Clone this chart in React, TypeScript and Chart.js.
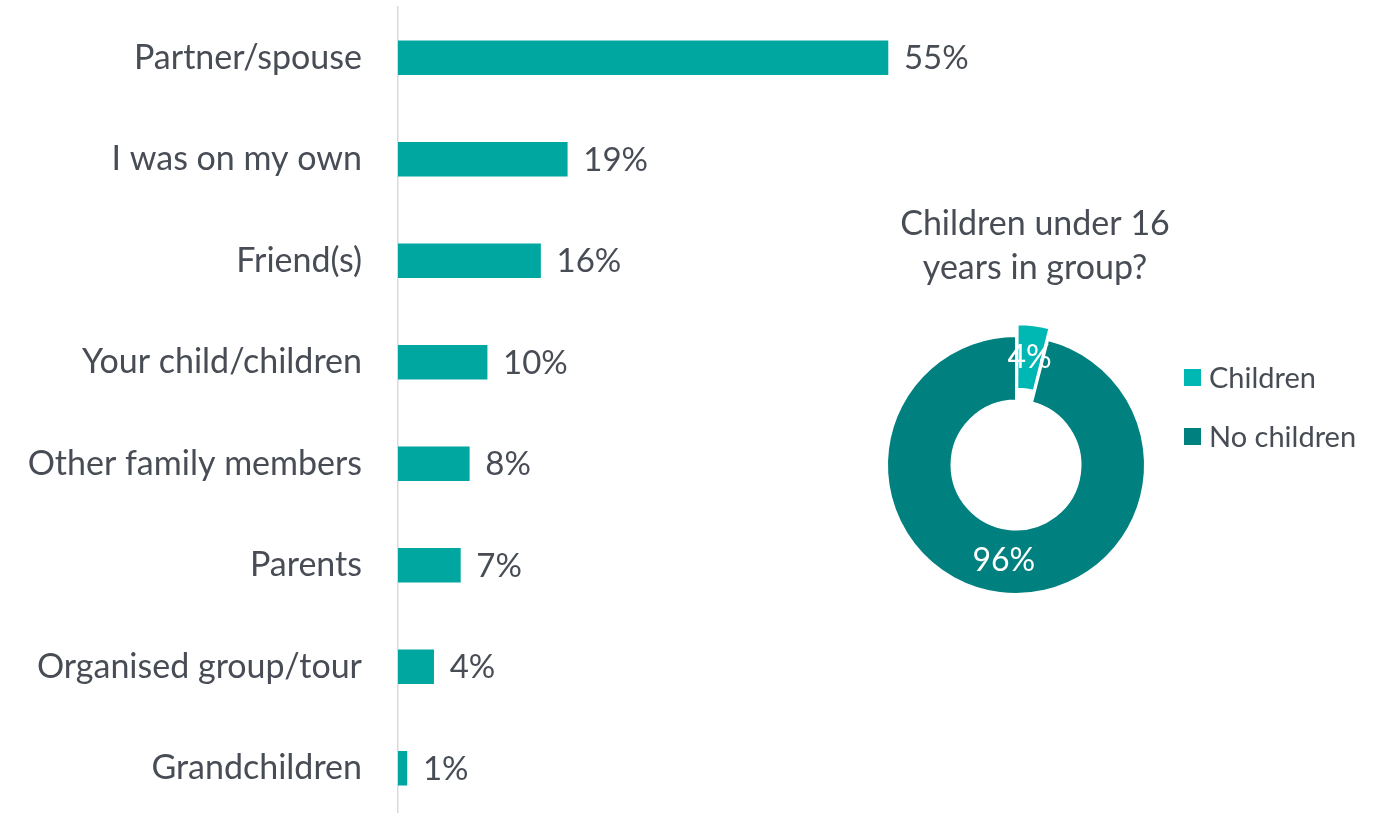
import React, { useEffect, useRef } from "react";
import { Chart, registerables } from "chart.js";

Chart.register(...registerables);

// ---- data ----
const categories = [
  "Partner/spouse",
  "I was on my own",
  "Friend(s)",
  "Your child/children",
  "Other family members",
  "Parents",
  "Organised group/tour",
  "Grandchildren",
];
const shares = [55, 19, 16, 10, 8, 7, 4, 1];

const donutTitle = ["Children under 16", "years in group?"];
const donutLabels = ["Children", "No children"];
const donutValues = [4, 96];

// ---- styles ----
const TEXT = "#474c55";
const FONT = "Lato, 'Open Sans', sans-serif";
const BAR_COLOR = "#00a6a0";
const DONUT_COLORS = ["#00b8b3", "#00807f"];

const barValueLabels = {
  id: "barValueLabels",
  afterDatasetsDraw(chart: any) {
    const ctx = chart.ctx;
    const meta = chart.getDatasetMeta(0);
    const data = chart.data.datasets[0].data;
    ctx.save();
    ctx.font = `33px ${FONT}`;
    ctx.fillStyle = TEXT;
    ctx.textBaseline = "middle";
    ctx.textAlign = "left";
    meta.data.forEach((bar: any, i: number) => {
      ctx.fillText(`${data[i]}%`, bar.x + 16, bar.y + 1);
    });
    ctx.restore();
  },
};

const donutValueLabels = {
  id: "donutValueLabels",
  afterDatasetsDraw(chart: any) {
    const ctx = chart.ctx;
    const meta = chart.getDatasetMeta(0);
    const data = chart.data.datasets[0].data;
    ctx.save();
    ctx.font = `32px ${FONT}`;
    ctx.fillStyle = "#ffffff";
    ctx.textBaseline = "middle";
    ctx.textAlign = "center";
    meta.data.forEach((arc: any, i: number) => {
      const p = arc.getProps(["x", "y", "startAngle", "endAngle", "innerRadius", "outerRadius"], true);
      const off = arc.options.offset || 0;
      const fix = 1 - Math.sin(Math.min(Math.PI, p.endAngle - p.startAngle));
      const shift = (off / 4) * (1 + fix);
      const mid = (p.startAngle + p.endAngle) / 2;
      const r = (p.innerRadius + p.outerRadius) / 2 + shift;
      ctx.fillText(`${data[i]}%`, p.x + Math.cos(mid) * r, p.y + Math.sin(mid) * r);
    });
    ctx.restore();
  },
};

// title + legend for the doughnut, drawn on its canvas
const donutDecor = {
  id: "donutDecor",
  afterDraw(chart: any) {
    const ctx = chart.ctx;
    const ds = chart.data.datasets[0];
    ctx.save();
    // title
    ctx.font = `34px ${FONT}`;
    ctx.fillStyle = TEXT;
    ctx.textBaseline = "middle";
    ctx.textAlign = "center";
    donutTitle.forEach((line, i) => {
      ctx.fillText(line, 335, 22 + i * 44);
    });
    // legend
    const x0 = 484;
    const y0 = 176;
    const step = 59;
    ctx.font = `29px ${FONT}`;
    ctx.textAlign = "left";
    chart.data.labels.forEach((lab: string, i: number) => {
      const cy = y0 + i * step;
      ctx.fillStyle = ds.backgroundColor[i];
      ctx.fillRect(x0, cy - 9, 17, 17);
      ctx.fillStyle = TEXT;
      ctx.fillText(lab, x0 + 25, cy + 1);
    });
    ctx.restore();
  },
};

export default function App() {
  const barRef = useRef<HTMLCanvasElement>(null);
  const donutRef = useRef<HTMLCanvasElement>(null);

  useEffect(() => {
    const bar = new Chart(barRef.current!, {
      type: "bar",
      data: {
        labels: categories,
        datasets: [{ data: shares, backgroundColor: BAR_COLOR, barThickness: 34 }],
      },
      options: {
        indexAxis: "y",
        responsive: false,
        animation: false,
        layout: { padding: { top: 7, right: 67.5, left: 0, bottom: 0 } },
        plugins: { legend: { display: false }, tooltip: { enabled: false } },
        scales: {
          x: { display: false, min: 0, max: 60 },
          y: {
            grid: { display: false, drawTicks: false },
            border: { display: true, color: "#d9d9d9", width: 1.5 },
            ticks: { color: TEXT, font: { family: FONT, size: 34 }, padding: 36 },
            afterFit: (s: any) => {
              s.width = 398;
              s.paddingTop = 0;
              s.paddingBottom = 0;
            },
          },
        },
      } as any,
      plugins: [barValueLabels],
    });

    const donut = new Chart(donutRef.current!, {
      type: "doughnut",
      data: {
        labels: donutLabels,
        datasets: [
          {
            data: donutValues,
            backgroundColor: DONUT_COLORS,
            borderColor: "#ffffff",
            borderWidth: 2,
            offset: [27, 0],
          },
        ],
      },
      options: {
        responsive: false,
        animation: false,
        radius: 129,
        cutout: "50%",
        layout: { padding: { top: 88, bottom: 0, left: 150, right: 188 } },
        plugins: {
          legend: { display: false },
          tooltip: { enabled: false },
          title: { display: false },
        },
      } as any,
      plugins: [donutValueLabels, donutDecor],
    });

    return () => {
      bar.destroy();
      donut.destroy();
    };
  }, []);

  return (
    <div
      style={{
        position: "fixed",
        left: 0,
        top: 0,
        width: 1378,
        height: 813,
        overflow: "hidden",
        background: "#ffffff",
      }}
    >
      <canvas
        ref={barRef}
        width={1000}
        height={819}
        style={{ position: "absolute", left: 0, top: 0, width: 1000, height: 819 }}
      />
      <canvas
        ref={donutRef}
        width={670}
        height={438}
        style={{ position: "absolute", left: 700, top: 202, width: 670, height: 438 }}
      />
    </div>
  );
}
